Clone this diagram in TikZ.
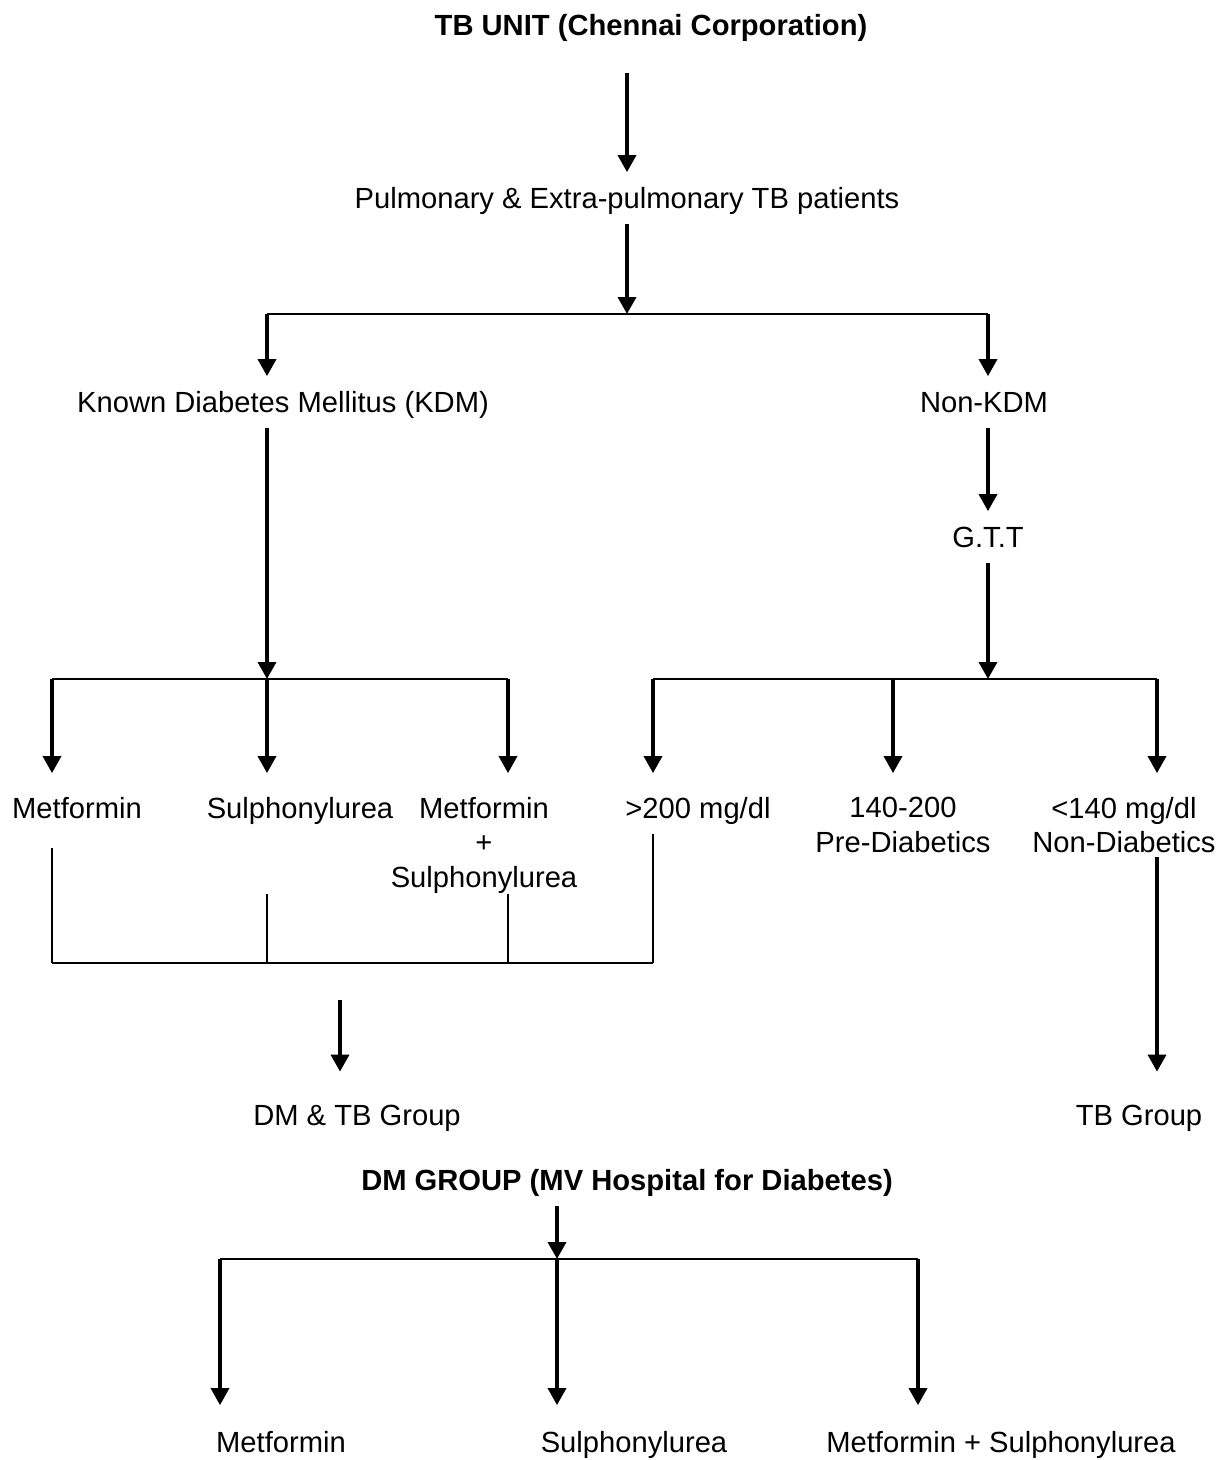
\documentclass[tikz,border=0pt]{standalone}
\usepackage{fontspec}
\setmainfont{Liberation Sans}
\usetikzlibrary{arrows.meta,positioning,calc}

\begin{document}
\begin{tikzpicture}[x=0.02cm, y=-0.02cm,
  every node/.style={font=\fontsize{16.6}{19.6}\selectfont},
  lbl/.style={text height=12pt, text depth=0pt, inner xsep=1pt, inner ysep=0.3cm},
  multi/.style={align=center, inner sep=0pt, anchor=north},
  head/.style={lbl, font=\fontsize{16.6}{19.6}\selectfont\bfseries},
  arr/.style={line width=2pt, -{Triangle[width=0.36cm, length=0.34cm]}},
  bar/.style={line width=1.6pt},
  mergeline/.style={line width=1.1pt}]
  \useasboundingbox (0,0) rectangle (1226,1460);

  % TB unit
  \node[head] (tbunit) at (651,25) {TB UNIT (Chennai Corporation)};
  \node[lbl] (patients) at (627,198) {Pulmonary \& Extra-pulmonary TB patients};
  \node[lbl] (kdm) at (283,402) {Known Diabetes Mellitus (KDM)};
  \node[lbl] (nonkdm) at (984,402) {Non-KDM};
  \node[lbl] (gtt) at (988,537) {G.T.T};

  % treatment / GTT results
  \node[lbl] (met1) at (77,808) {Metformin};
  \node[lbl] (sul1) at (300,808) {Sulphonylurea};
  \node[multi] (metsul1) at (484,797) {Metformin\\+\\Sulphonylurea};
  \node[lbl] (high) at (698,808) {>200 mg/dl};
  \node[multi] (pre) at (903,797) {140-200\\Pre-Diabetics};
  \node[multi] (normal) at (1124,797) {<140 mg/dl\\Non-Diabetics};

  % groups
  \node[lbl] (dmtb) at (357,1115) {DM \& TB Group};
  \node[lbl] (tbgroup) at (1139,1115) {TB Group};

  % DM group
  \node[head] (dmgroup) at (627,1180) {DM GROUP (MV Hospital for Diabetes)};
  \node[lbl] (met2) at (281,1442) {Metformin};
  \node[lbl] (sul2) at (634,1442) {Sulphonylurea};
  \node[lbl] (metsul2) at (1001,1442) {Metformin + Sulphonylurea};

  % junctions
  \coordinate (split) at (627,314);
  \coordinate (kl) at (267,314);
  \coordinate (kr) at (988,314);
  \coordinate (ka) at (52,679);
  \coordinate (kb) at (267,679);
  \coordinate (kc) at (508,679);
  \coordinate (ga) at (653,679);
  \coordinate (gb) at (893,679);
  \coordinate (gc) at (988,679);
  \coordinate (gd) at (1157,679);
  \coordinate (ma) at (52,963);
  \coordinate (mb) at (267,963);
  \coordinate (mc) at (508,963);
  \coordinate (md) at (653,963);
  \coordinate (mout) at (340,963);
  \coordinate (dl) at (220,1259);
  \coordinate (dm) at (557,1259);
  \coordinate (dr) at (918,1259);

  % top part
  \draw[arr, shorten <=0.45cm] (tbunit.south -| split) -- (patients.north);
  \draw[arr] (patients.south) -- (split);
  \draw[bar] (kl) -- (kr);
  \draw[arr] (kl) -- (kdm.north -| kl);
  \draw[arr] (kr) -- (nonkdm.north -| kr);

  % KDM branch
  \draw[arr] (kdm.south -| kb) -- (kb);
  \draw[bar] (ka) -- (kc);
  \foreach \c in {ka,kb,kc}
    \draw[arr, shorten >=0.18cm] (\c) -- (met1.north -| \c);

  % non-KDM branch
  \draw[arr] (nonkdm.south -| gtt.north) -- (gtt.north);
  \draw[arr] (gtt.south -| gc) -- (gc);
  \draw[bar] (ga) -- (gd);
  \foreach \c in {ga,gb,gd}
    \draw[arr, shorten >=0.18cm] (\c) -- (high.north -| \c);

  % merging into DM & TB group
  \draw[mergeline, shorten <=0.29cm] (met1.south -| ma) -- (ma);
  \draw[mergeline] (metsul1.south -| mb) -- (mb);
  \draw[mergeline] (metsul1.south -| mc) -- (mc);
  \draw[mergeline] (high.south -| md) -- (md);
  \draw[mergeline] (ma) -- (md);
  \draw[arr, shorten <=0.74cm, shorten >=0.35cm] (mout) -- (dmtb.north -| mout);
  \draw[arr, shorten <=0.06cm, shorten >=0.35cm] (normal.south -| gd) -- (tbgroup.north -| gd);

  % DM group
  \draw[arr] (dmgroup.south -| dm) -- (dm);
  \draw[bar] (dl) -- (dr);
  \foreach \c in {dl,dm,dr}
    \draw[arr, shorten >=0.22cm] (\c) -- (met2.north -| \c);
\end{tikzpicture}
\end{document}
